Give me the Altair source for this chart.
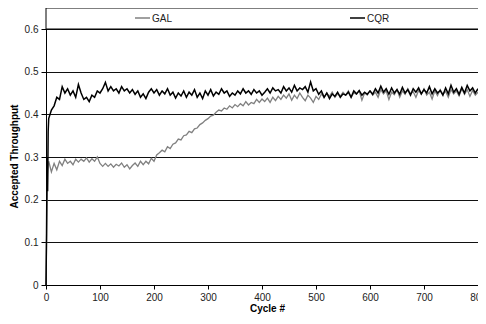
import altair as alt
import pandas as pd

early_cycles = [0, 1, 2, 3, 4]
step_cycles = list(range(5, 801, 5))
cycles = early_cycles + step_cycles

cqr = [0.00, 0.12, 0.30, 0.22, 0.36,
       0.39, 0.41, 0.42, 0.44, 0.435, 0.465, 0.45, 0.46, 0.445, 0.455,
       0.44, 0.47, 0.45, 0.435, 0.44, 0.43, 0.445, 0.44, 0.455, 0.45,
       0.46, 0.475, 0.455, 0.465, 0.455, 0.46, 0.45, 0.465, 0.455, 0.46,
       0.45, 0.458, 0.447, 0.455, 0.44, 0.448, 0.437, 0.452, 0.46, 0.45,
       0.458, 0.445, 0.455, 0.448, 0.46, 0.445, 0.452, 0.438, 0.45, 0.443,
       0.455, 0.44, 0.452, 0.445, 0.458, 0.44, 0.45, 0.437, 0.455, 0.445,
       0.458, 0.443, 0.452, 0.447, 0.46, 0.45, 0.455, 0.442, 0.45, 0.445,
       0.455, 0.448, 0.46, 0.45, 0.455, 0.447, 0.458, 0.45, 0.455, 0.445,
       0.452, 0.46, 0.45, 0.462, 0.455, 0.458, 0.45, 0.465, 0.455, 0.462,
       0.452, 0.468, 0.455, 0.462, 0.458, 0.465, 0.452, 0.476, 0.455, 0.46,
       0.447, 0.455, 0.44, 0.45, 0.437, 0.448, 0.442, 0.452, 0.44, 0.448,
       0.445, 0.452, 0.44, 0.455, 0.448, 0.456, 0.445, 0.452, 0.447, 0.455,
       0.447, 0.46, 0.45, 0.466, 0.452, 0.46, 0.447, 0.462, 0.45, 0.458,
       0.447, 0.463, 0.45, 0.458, 0.445, 0.46, 0.452, 0.462, 0.448, 0.458,
       0.45, 0.465, 0.448, 0.46, 0.45, 0.456, 0.445, 0.462, 0.448, 0.468,
       0.452, 0.46, 0.447, 0.463, 0.45, 0.468, 0.455, 0.462, 0.45, 0.46]

gal = [0.00, 0.10, 0.20, 0.26, 0.28,
       0.29, 0.265, 0.285, 0.27, 0.29, 0.28, 0.295, 0.285, 0.29, 0.282,
       0.295, 0.288, 0.295, 0.29, 0.298, 0.288, 0.296, 0.29, 0.30, 0.285,
       0.278, 0.285, 0.278, 0.284, 0.276, 0.283, 0.279, 0.286, 0.276, 0.282,
       0.272, 0.28, 0.286, 0.278, 0.29, 0.282, 0.29, 0.284, 0.297, 0.29,
       0.305, 0.31, 0.316, 0.312, 0.324, 0.32, 0.33, 0.333, 0.342, 0.34,
       0.35, 0.352, 0.36, 0.357, 0.366, 0.368, 0.376, 0.38, 0.386, 0.39,
       0.396, 0.398, 0.405, 0.41, 0.408, 0.415, 0.412, 0.42, 0.415, 0.423,
       0.418, 0.425, 0.42, 0.43, 0.422, 0.428, 0.425, 0.435, 0.428, 0.436,
       0.43, 0.438, 0.428, 0.44, 0.432, 0.442, 0.435, 0.445, 0.438, 0.448,
       0.433, 0.445, 0.437, 0.45, 0.44, 0.432, 0.445, 0.438, 0.428, 0.442,
       0.435, 0.448, 0.44, 0.45, 0.442, 0.452, 0.44, 0.448, 0.443, 0.452,
       0.445, 0.455, 0.44, 0.45, 0.447, 0.455, 0.433, 0.45, 0.445, 0.455,
       0.445, 0.452, 0.44, 0.458, 0.448, 0.455, 0.435, 0.452, 0.446, 0.458,
       0.44, 0.455, 0.447, 0.46, 0.448, 0.453, 0.44, 0.456, 0.447, 0.46,
       0.445, 0.452, 0.436, 0.455, 0.444, 0.458, 0.447, 0.454, 0.44, 0.458,
       0.448, 0.455, 0.443, 0.46, 0.447, 0.458, 0.442, 0.456, 0.445, 0.452]

x_ticks = [0, 100, 200, 300, 400, 500, 600, 700, 800]
y_ticks = [0, 0.1, 0.2, 0.3, 0.4, 0.5, 0.6]

df_cqr = pd.DataFrame({"cycle": cycles, "value": cqr})
df_gal = pd.DataFrame({"cycle": cycles, "value": gal})

FONT = "Liberation Sans"
W, H = 432, 277

xscale = alt.Scale(domain=[0, 800], nice=False, zero=False)
yscale = alt.Scale(domain=[0, 0.6493], nice=False)

xaxis = alt.Axis(values=x_ticks, format="d", grid=False, tickSize=4, labelPadding=3,
                 labelFlush=False,
                 labelFontSize=10, labelColor="#222", labelFont=FONT,
                 domainColor="#000", tickColor="#000",
                 title="Cycle #", titleFont=FONT, titleFontSize=10, titleFontWeight="bold",
                 titleX=221, titleY=23, titleBaseline="middle", titleAlign="center")
yaxis = alt.Axis(values=y_ticks, grid=True, gridColor="#111", gridWidth=1,
                 tickSize=5, labelPadding=3, labelFlush=False,
                 labelExpr="datum.value == 0 ? '0' : format(datum.value, '.1f')",
                 labelFontSize=10, labelColor="#222", labelFont=FONT,
                 domainColor="#000", tickColor="#000",
                 title="Accepted Throughput", titleFont=FONT, titleFontSize=10,
                 titleFontWeight="bold", titleAngle=270, titleX=-32, titleY=148,
                 titleAlign="center", titleBaseline="middle")

gal_line = alt.Chart(df_gal).mark_line(color="#808080", strokeWidth=1.3).encode(
    x=alt.X("cycle:Q", scale=xscale, axis=xaxis),
    y=alt.Y("value:Q", scale=yscale, axis=yaxis),
)
cqr_line = alt.Chart(df_cqr).mark_line(color="#000000", strokeWidth=1.5).encode(
    x=alt.X("cycle:Q", scale=xscale),
    y=alt.Y("value:Q", scale=yscale),
)

legend_box = alt.Chart(pd.DataFrame({"a": [0]})).mark_rect(
    fill="white", stroke="#000", strokeWidth=1).encode(
    x=alt.value(0), x2=alt.value(434), y=alt.value(0), y2=alt.value(21))

leg_gal_line = alt.Chart(pd.DataFrame({"a": [0]})).mark_rule(color="#808080", strokeWidth=1.5).encode(
    x=alt.value(89), x2=alt.value(104), y=alt.value(10))
leg_cqr_line = alt.Chart(pd.DataFrame({"a": [0]})).mark_rule(color="#000", strokeWidth=1.5).encode(
    x=alt.value(304), x2=alt.value(319), y=alt.value(10))
leg_gal_text = alt.Chart(pd.DataFrame({"t": ["GAL"]})).mark_text(
    font=FONT, fontSize=10, align="left", baseline="middle", color="#222").encode(
    x=alt.value(106), y=alt.value(10.5), text="t:N")
leg_cqr_text = alt.Chart(pd.DataFrame({"t": ["CQR"]})).mark_text(
    font=FONT, fontSize=10, align="left", baseline="middle", color="#222").encode(
    x=alt.value(321), y=alt.value(10.5), text="t:N")

chart = alt.layer(gal_line, cqr_line, legend_box, leg_gal_line, leg_cqr_line,
                  leg_gal_text, leg_cqr_text).properties(
    width=W, height=H,
    autosize=alt.AutoSizeParams(type="none"),
    padding={"left": 38, "top": 0, "right": 0, "bottom": 31},
).configure_view(stroke="#808080", strokeWidth=1)

chart.save("out.html", embed_options={"renderer": "svg", "actions": False})
